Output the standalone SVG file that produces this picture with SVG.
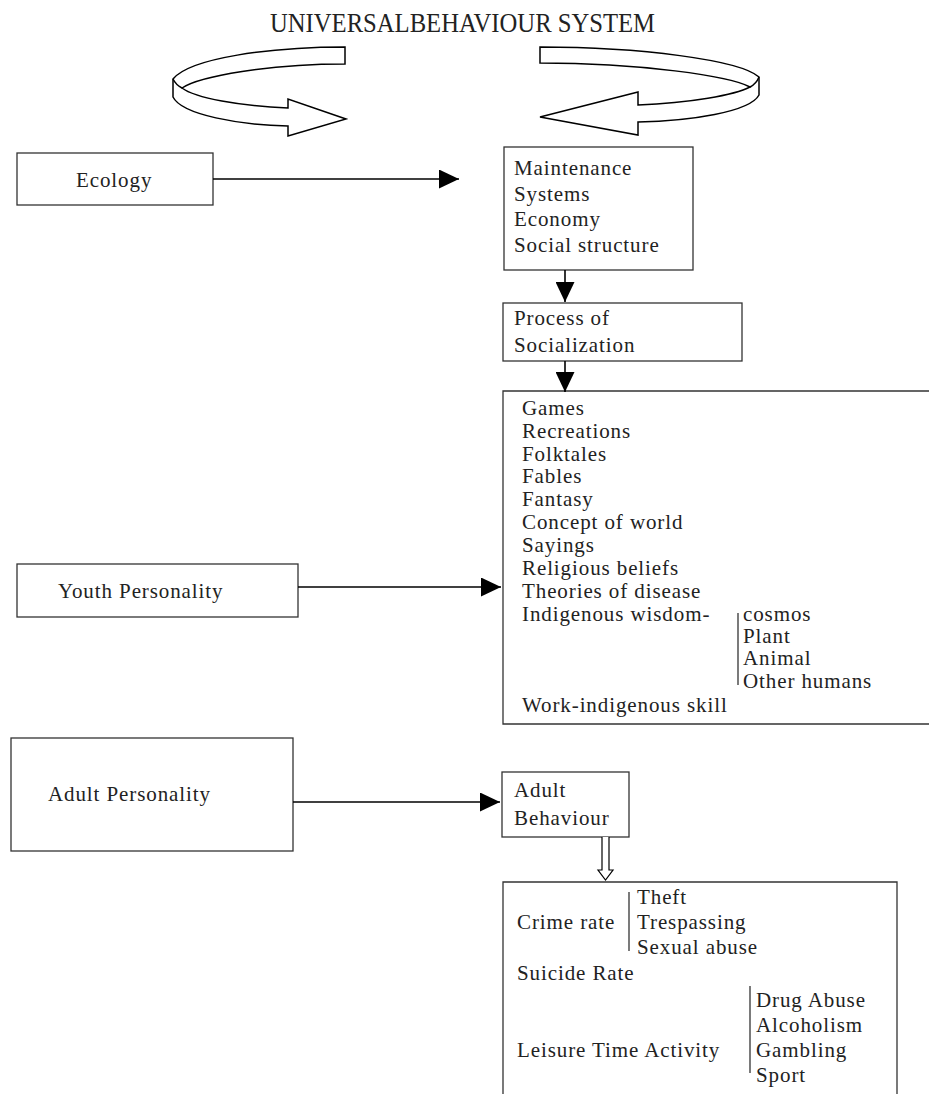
<svg xmlns="http://www.w3.org/2000/svg" width="929" height="1094" viewBox="0 0 929 1094">
<style>
.box{fill:#fff;stroke:#333;stroke-width:1.3}
.t{font-family:"Liberation Serif","Times New Roman",serif;font-size:21px;fill:#222;letter-spacing:0.9px}
.c{fill:none;stroke:#000;stroke-width:1.6}
.rib{fill:#fff;stroke:#000;stroke-width:1.5;stroke-linejoin:miter}
.br{stroke:#333;stroke-width:1.3}
</style>
<defs>
<marker id="ah" viewBox="0 0 20 19" refX="20" refY="9.5" markerWidth="20" markerHeight="19" orient="auto" markerUnits="userSpaceOnUse"><path d="M0,0 L20,9.5 L0,19 Z" fill="#000"/></marker>
</defs>
<rect width="929" height="1094" fill="#fff"/>
<g id="title">
<text x="270" y="32" font-family="Liberation Serif, Times New Roman, serif" font-size="27" fill="#222" textLength="385" lengthAdjust="spacingAndGlyphs">UNIVERSALBEHAVIOUR SYSTEM</text>
</g>
<g id="cycle-left">
<path class="rib" d="M345,47 C270,47 190,58 173,79 L173,97 C182,115 240,125 288,126 L288,136 L346,119 L288,99 L288,108 C240,106 195,98 182,88 C200,76 270,64 345,64 Z"/>
<path class="rib" fill="none" d="M173,79 C175,83 178,86 182,88"/>
</g>
<g id="cycle-right">
<path class="rib" d="M540,47 C640,47 740,60 759,77 L759,95 C750,112 690,121 638,122 L638,135 L540,117 L638,92 L638,105 C690,103 735,95 750,87 C730,76 640,63 540,63 Z"/>
<path class="rib" fill="none" d="M759,77 C757,82 754,85 750,87"/>
</g>
<g id="ecology">
<rect class="box" x="17" y="153" width="196" height="52"/>
<text class="t" x="76" y="187">Ecology</text>
</g>
<g id="maintenance">
<rect class="box" x="504" y="147" width="189" height="123"/>
<text class="t" x="514" y="175">Maintenance</text>
<text class="t" x="514" y="201">Systems</text>
<text class="t" x="514" y="226">Economy</text>
<text class="t" x="514" y="252">Social structure</text>
</g>
<g id="socialization">
<rect class="box" x="503" y="303" width="239" height="58"/>
<text class="t" x="514" y="325">Process of</text>
<text class="t" x="514" y="352">Socialization</text>
</g>
<g id="youth">
<rect class="box" x="17" y="564" width="281" height="53"/>
<text class="t" x="58" y="598">Youth Personality</text>
</g>
<g id="culture">
<path class="box" fill="none" d="M929,391 L503,391 L503,724 L929,724"/>
<text class="t" x="522" y="415">Games</text>
<text class="t" x="522" y="438">Recreations</text>
<text class="t" x="522" y="461">Folktales</text>
<text class="t" x="522" y="483">Fables</text>
<text class="t" x="522" y="506">Fantasy</text>
<text class="t" x="522" y="529">Concept of world</text>
<text class="t" x="522" y="552">Sayings</text>
<text class="t" x="522" y="575">Religious beliefs</text>
<text class="t" x="522" y="598">Theories of disease</text>
<text class="t" x="522" y="621">Indigenous wisdom-</text>
<line class="br" x1="738" y1="613" x2="738" y2="685"/>
<text class="t" x="743" y="621">cosmos</text>
<text class="t" x="743" y="643">Plant</text>
<text class="t" x="743" y="665">Animal</text>
<text class="t" x="743" y="688">Other humans</text>
<text class="t" x="522" y="712">Work-indigenous skill</text>
</g>
<g id="adult-personality">
<rect class="box" x="11" y="738" width="282" height="113"/>
<text class="t" x="48" y="801">Adult Personality</text>
</g>
<g id="adult-behaviour">
<rect class="box" x="502" y="772" width="127" height="65"/>
<text class="t" x="514" y="797">Adult</text>
<text class="t" x="514" y="825">Behaviour</text>
</g>
<g id="outcomes">
<path class="box" fill="none" d="M503,1094 L503,882 L897,882 L897,1094"/>
<text class="t" x="517" y="929">Crime rate</text>
<line class="br" x1="629" y1="892" x2="629" y2="951"/>
<text class="t" x="637" y="904">Theft</text>
<text class="t" x="637" y="929">Trespassing</text>
<text class="t" x="637" y="954">Sexual abuse</text>
<text class="t" x="517" y="980">Suicide Rate</text>
<text class="t" x="517" y="1057">Leisure Time Activity</text>
<line class="br" x1="750" y1="986" x2="750" y2="1073"/>
<text class="t" x="756" y="1007">Drug Abuse</text>
<text class="t" x="756" y="1032">Alcoholism</text>
<text class="t" x="756" y="1057">Gambling</text>
<text class="t" x="756" y="1082">Sport</text>
</g>
<g id="connectors">
<path class="c" d="M213,179 L459,179" marker-end="url(#ah)"/>
<path class="c" d="M565,270 L565,302" marker-end="url(#ah)"/>
<path class="c" d="M565,361 L565,392" marker-end="url(#ah)"/>
<path class="c" d="M298,587 L501,587" marker-end="url(#ah)"/>
<path class="c" d="M293,802 L500,802" marker-end="url(#ah)"/>
<path fill="#fff" stroke="#000" stroke-width="1.2" d="M602,837 L602,870 L598,870 L605.5,880 L613,870 L609,870 L609,837"/>
</g>
</svg>
